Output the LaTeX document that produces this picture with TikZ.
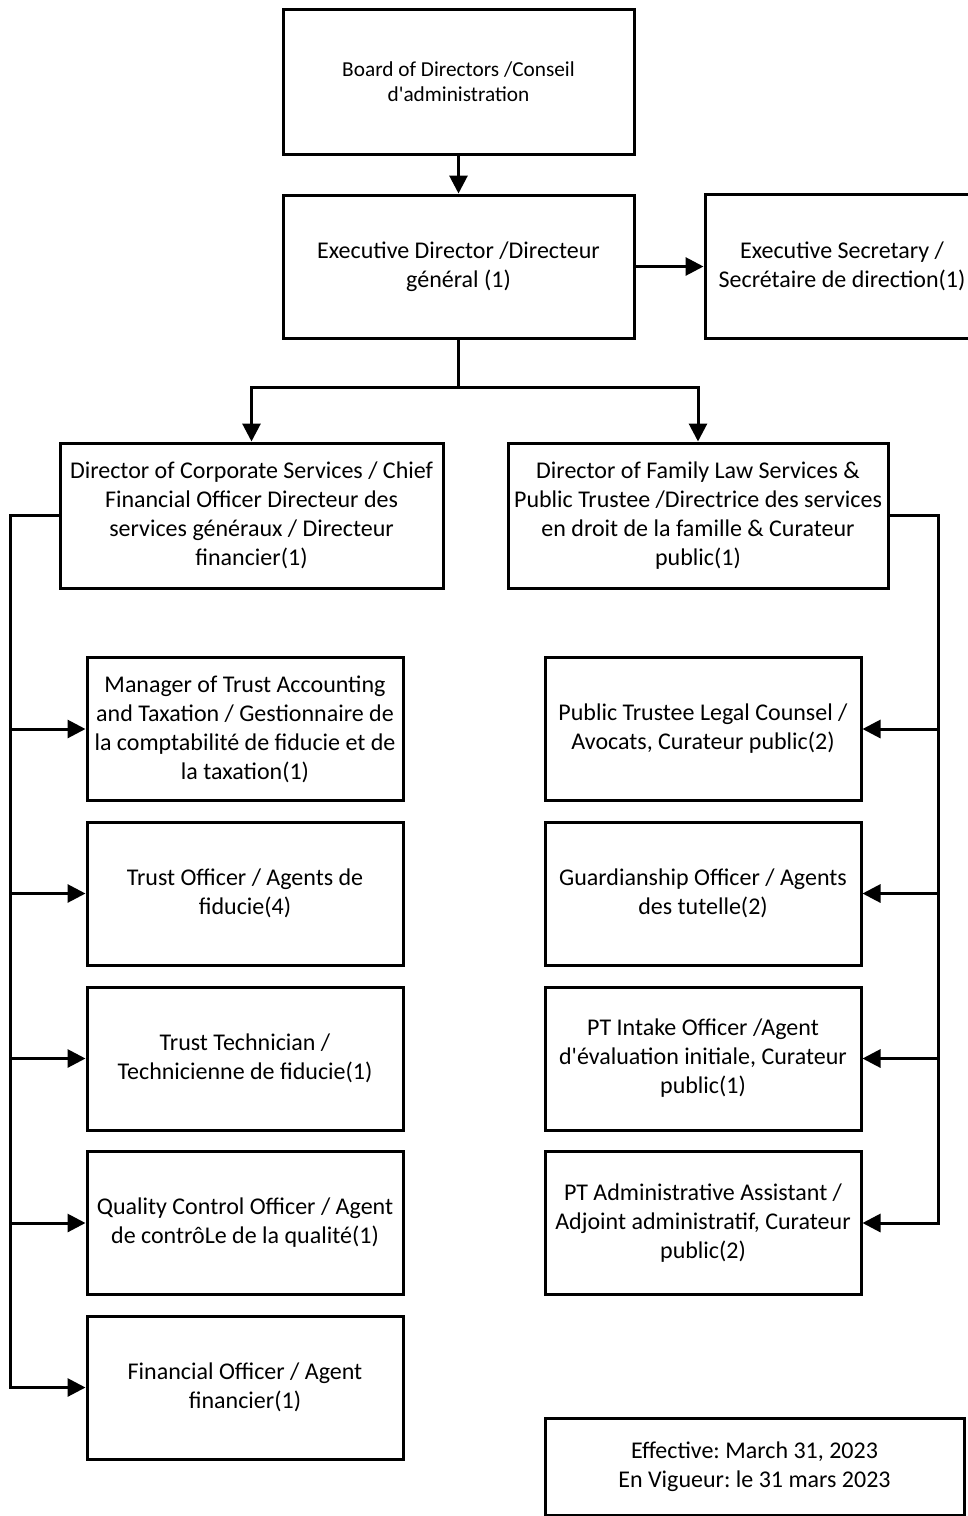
\documentclass[tikz,border=0pt]{standalone}
\usepackage{fontspec}
\setmainfont{Carlito}
\frenchspacing
\usetikzlibrary{arrows.meta}
\tikzset{>={Triangle[length=18pt,width=18pt]},
  box/.style={draw,fill=white,align=center,inner sep=0pt,
    minimum width=316pt,minimum height=143pt,
    font=\fontsize{24}{29}\selectfont},
  topbox/.style={box,minimum width=351pt},
  headbox/.style={box,minimum height=145pt}}

\begin{document}
\begin{tikzpicture}[x=1pt,y=-1pt,line width=3pt]
  \useasboundingbox (0,0) rectangle (967,1516);

  \node[topbox,minimum height=145pt,font=\fontsize{21.3}{25}\selectfont] (board) at (458.5,81.5)
    {Board of Directors /Conseil\\d\textquotesingle administration};
  \node[topbox] (exec) [below of=board,node distance=185pt]
    {Executive Director /Directeur\\général (1)};
  \node[box,minimum width=274pt,minimum height=144pt] (sec) [right of=exec,node distance=383.5pt]
    {Executive Secretary /\\Secrétaire de direction(1)};

  \node[headbox,minimum width=383pt] (corp) [below of=exec,node distance=249pt,xshift=-207pt]
    {Director of Corporate Services / Chief\\Financial Officer Directeur des\\services généraux / Directeur\\financier(1)};
  \node[headbox,minimum width=380pt] (family) [right of=corp,node distance=446.5pt]
    {Director of Family Law Services \&\\Public Trustee /Directrice des services\\en droit de la famille \& Curateur\\public(1)};

  % corporate services side
  \node[box] (mgr) [below of=corp,node distance=213.5pt,xshift=-6.5pt]
    {Manager of Trust Accounting\\and Taxation / Gestionnaire de\\la comptabilité de fiducie et de\\la taxation(1)};
  \node[box] (tro) [below of=mgr,node distance=164.5pt]
    {Trust Officer / Agents de\\fiducie(4)};
  \node[box] (tech) [below of=tro,node distance=165pt]
    {Trust Technician /\\Technicienne de fiducie(1)};
  \node[box] (qc) [below of=tech,node distance=164.5pt]
    {Quality Control Officer / Agent\\de contrôLe de la qualité(1)};
  \node[box] (fin) [below of=qc,node distance=164.5pt]
    {Financial Officer / Agent\\financier(1)};

  % family law side
  \node[box] (ptlc) [right of=mgr,node distance=458pt]
    {Public Trustee Legal Counsel /\\Avocats, Curateur public(2)};
  \node[box] (guard) [below of=ptlc,node distance=164.5pt]
    {Guardianship Officer / Agents\\des tutelle(2)};
  \node[box] (intake) [below of=guard,node distance=165pt]
    {PT Intake Officer /Agent\\d\textquotesingle évaluation initiale, Curateur\\public(1)};
  \node[box] (padm) [below of=intake,node distance=164.5pt]
    {PT Administrative Assistant /\\Adjoint administratif, Curateur\\public(2)};

  \node[box,minimum width=419pt,minimum height=97pt] (eff) [below of=padm,node distance=243.5pt,xshift=51.5pt]
    {Effective: March 31, 2023\\En Vigueur: le 31 mars 2023};

  \coordinate (split) at ([yshift=-48pt]exec.south);
  \coordinate (lbus) at ([xshift=-48pt]corp.west);
  \coordinate (rbus) at ([xshift=49pt]family.east);

  \path[->]
    (board) edge (exec)
    (exec) edge (sec)
    ;
  \draw (exec.south) -- (split);
  \draw[->] (split) -| (corp.north);
  \draw[->] (split) -| (family.north);

  \draw[->] (corp.west) -- (lbus) |- (fin.west);
  \foreach \n in {mgr,tro,tech,qc}
    \draw[->] (lbus |- \n.west) -- (\n.west);

  \draw[->] (family.east) -- (rbus) |- (padm.east);
  \foreach \n in {ptlc,guard,intake}
    \draw[->] (rbus |- \n.east) -- (\n.east);
\end{tikzpicture}
\end{document}
